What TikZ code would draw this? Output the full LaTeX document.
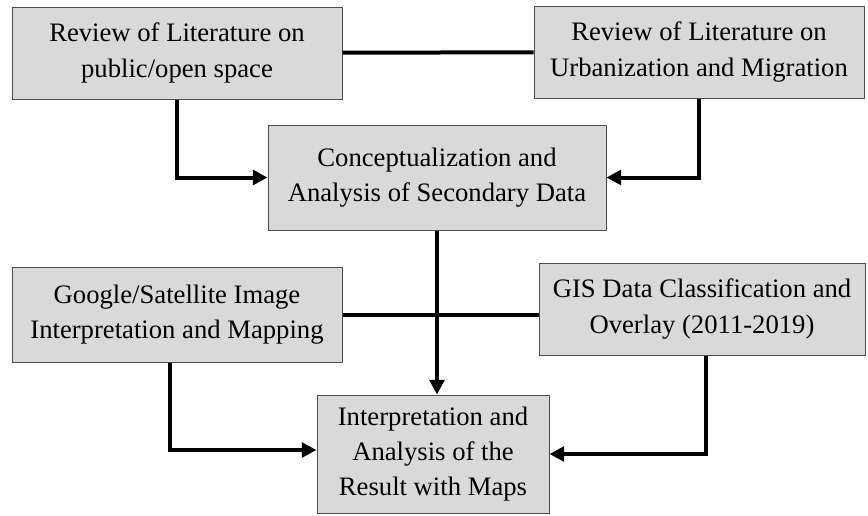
\documentclass[tikz,border=0pt]{standalone}
\usepackage{fontspec}
\setmainfont{Liberation Serif}
\usetikzlibrary{arrows.meta}
\definecolor{boxgray}{RGB}{217,217,217}

\begin{document}
\begin{tikzpicture}[x=0.75pt,y=-0.75pt,
    box/.style={draw=black!70,line width=0.75pt,fill=boxgray,inner sep=0pt,align=center,font=\fontsize{20}{26.5}\selectfont},
    link/.style={line width=3pt},
    flow/.style={line width=3pt,-{Triangle[length=11pt,width=11pt]}}]
  \useasboundingbox (0,0) rectangle (868,515);
  \node[box,minimum width=247.5pt,minimum height=69pt] (litpub) at (177,53) {Review of Literature on\\public/open space};
  \node[box,minimum width=247.5pt,minimum height=69pt] (liturb) at (699,52) {Review of Literature on\\Urbanization and Migration};
  \node[box,minimum width=253.5pt,minimum height=78.75pt] (concept) at (437,177.5) {Conceptualization and\\Analysis of Secondary Data};
  \node[box,minimum width=247.5pt,minimum height=71.25pt] (google) at (177,314.5) {Google/Satellite Image\\Interpretation and Mapping};
  \node[box,minimum width=244.5pt,minimum height=69pt] (gis) at (702,309) {GIS Data Classification and\\Overlay (2011-2019)};
  \node[box,minimum width=174pt,minimum height=88.5pt] (result) at (433,454) {Interpretation and\\Analysis of the\\Result with Maps};
  \draw[link] (litpub) -- (liturb);
  \draw[link] (google.east) -- (google.east -| gis.west);
  \draw[flow] (litpub.south) |- (concept.west);
  \draw[flow] (liturb.south) |- (concept.east);
  \draw[flow] (concept.south) -- (concept.south |- result.north);
  \draw[flow] ([xshift=-5.25pt]google.south) |- ([yshift=3pt]result.west);
  \draw[flow] ([xshift=3pt]gis.south) |- (result.east);
\end{tikzpicture}
\end{document}
